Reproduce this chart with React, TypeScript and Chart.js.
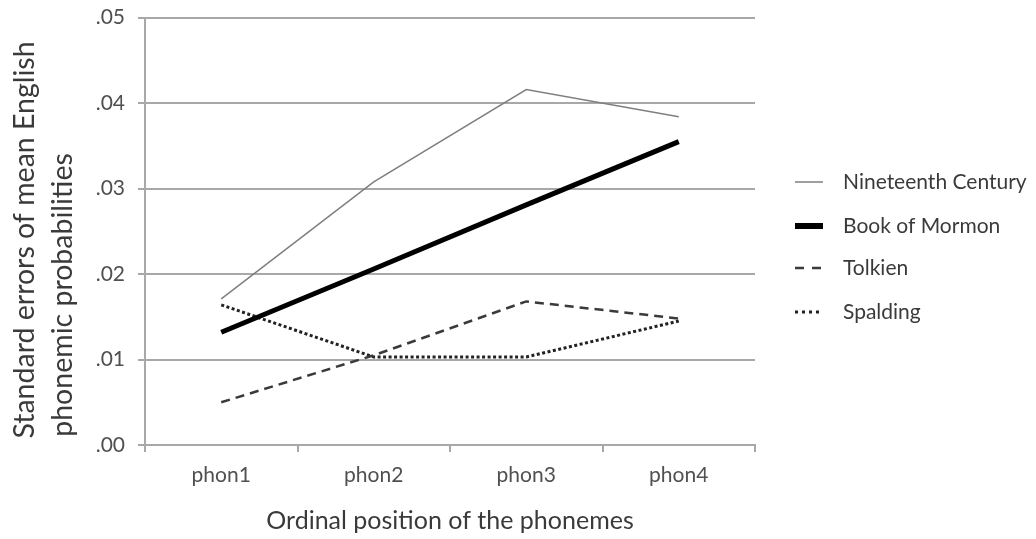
import { useEffect, useRef } from "react";
import { Chart, registerables } from "chart.js";

Chart.register(...registerables);

const categories = ["phon1", "phon2", "phon3", "phon4"];
const seriesNames = ["Nineteenth Century", "Book of Mormon", "Tolkien", "Spalding"];
const nineteenthCentury = [0.0171, 0.0308, 0.0416, 0.0384];
const bookOfMormon = [0.0132, 0.0206, 0.0281, 0.0355];
const tolkien = [0.005, 0.0105, 0.0168, 0.0148];
const spalding = [0.0164, 0.0103, 0.0103, 0.0145];
const yTickValues = [0, 0.01, 0.02, 0.03, 0.04, 0.05];
const yTickLabels = [".00", ".01", ".02", ".03", ".04", ".05"];
const yTitleLines = ["Standard errors of mean English", "phonemic probabilities"];
const xTitle = "Ordinal position of the phonemes";

const FONT = "Lato, 'Open Sans', sans-serif";
const GRID = "#a8a8a8";
const TEXT = "#3a3a3a";

const legendPlugin = {
  id: "customLegend",
  afterDraw(chart: any) {
    const ctx = chart.ctx as CanvasRenderingContext2D;
    const rows = [182, 226, 268, 312];
    chart.data.datasets.forEach((ds: any, i: number) => {
      const y = rows[i];
      ctx.save();
      ctx.beginPath();
      ctx.strokeStyle = ds.borderColor;
      ctx.lineWidth = ds.legendWidth ?? ds.borderWidth;
      ctx.setLineDash(ds.legendDash ?? ds.borderDash ?? []);
      ctx.moveTo(795, y);
      ctx.lineTo(823, y);
      ctx.stroke();
      ctx.setLineDash([]);
      ctx.fillStyle = TEXT;
      ctx.font = `21px ${FONT}`;
      ctx.textBaseline = "middle";
      ctx.textAlign = "left";
      ctx.fillText(ds.label, 843, y);
      ctx.restore();
    });
  },
};

const yTitlePlugin = {
  id: "yTitle",
  afterDraw(chart: any) {
    const ctx = chart.ctx as CanvasRenderingContext2D;
    const pos = [
      { x: 25, y: 240 },
      { x: 63, y: 295 },
    ];
    ctx.save();
    ctx.fillStyle = TEXT;
    ctx.font = `28.5px ${FONT}`;
    ctx.textAlign = "center";
    ctx.textBaseline = "middle";
    yTitleLines.forEach((line, i) => {
      ctx.save();
      ctx.translate(pos[i].x, pos[i].y);
      ctx.rotate(-Math.PI / 2);
      ctx.fillText(line, 0, 0);
      ctx.restore();
    });
    ctx.restore();
  },
};

export default function App() {
  const ref = useRef<HTMLCanvasElement | null>(null);
  useEffect(() => {
    if (!ref.current) return;
    const chart = new Chart(ref.current, {
      type: "line",
      data: {
        labels: categories,
        datasets: [
          {
            label: seriesNames[0],
            data: nineteenthCentury,
            borderColor: "#7f7f7f",
            borderWidth: 1.5,
            pointRadius: 0,
          },
          {
            label: seriesNames[1],
            data: bookOfMormon,
            borderColor: "#000000",
            borderWidth: 5,
            pointRadius: 0,
            legendWidth: 6,
          } as any,
          {
            label: seriesNames[2],
            data: tolkien,
            borderColor: "#3a3a3a",
            borderWidth: 2.5,
            borderDash: [9, 6],
            pointRadius: 0,
            legendDash: [9, 8],
          } as any,
          {
            label: seriesNames[3],
            data: spalding,
            borderColor: "#222222",
            borderWidth: 3,
            borderDash: [3, 2.5],
            pointRadius: 0,
            legendDash: [3, 4],
          } as any,
        ],
      },
      options: {
        responsive: false,
        animation: false,
        layout: { padding: { top: 17.7, right: 281, left: 0, bottom: 0 } },
        plugins: {
          legend: { display: false },
          tooltip: { enabled: false },
        },
        scales: {
          x: {
            type: "category",
            offset: true,
            grid: {
              offset: true,
              drawOnChartArea: false,
              drawTicks: true,
              tickLength: 7,
              color: GRID,
              lineWidth: 2,
            },
            border: { color: GRID, width: 2 },
            ticks: {
              color: "#505050",
              font: { family: FONT, size: 21 },
              padding: 11,
              maxRotation: 0,
            },
            title: {
              display: true,
              text: xTitle,
              color: TEXT,
              font: { family: FONT, size: 25 },
              padding: { top: 0, bottom: 3 },
            },
            afterFit: (s: any) => {
              s.height = 94;
              s.paddingLeft = 0;
              s.paddingRight = 0;
            },
          },
          y: {
            min: 0,
            max: 0.05,
            afterBuildTicks: (s: any) => {
              s.ticks = yTickValues.map((v) => ({ value: v }));
            },
            grid: {
              color: GRID,
              lineWidth: 2,
              drawTicks: true,
              tickLength: 7,
            },
            border: { color: GRID, width: 2 },
            ticks: {
              color: "#505050",
              font: { family: FONT, size: 21 },
              padding: 13,
              callback: (v: any) => {
                const idx = yTickValues.findIndex((t) => Math.abs(t - Number(v)) < 1e-9);
                return idx >= 0 ? yTickLabels[idx] : "";
              },
            },
            afterFit: (s: any) => {
              s.width = 145;
              s.paddingTop = 0;
              s.paddingBottom = 0;
            },
          },
        },
      },
      plugins: [legendPlugin, yTitlePlugin],
    });
    return () => chart.destroy();
  }, []);
  return (
    <div style={{ position: "absolute", left: 0, top: 0, width: 1036, height: 539, background: "#fff" }}>
      <canvas ref={ref} width={1036} height={539} style={{ display: "block" }} />
    </div>
  );
}
